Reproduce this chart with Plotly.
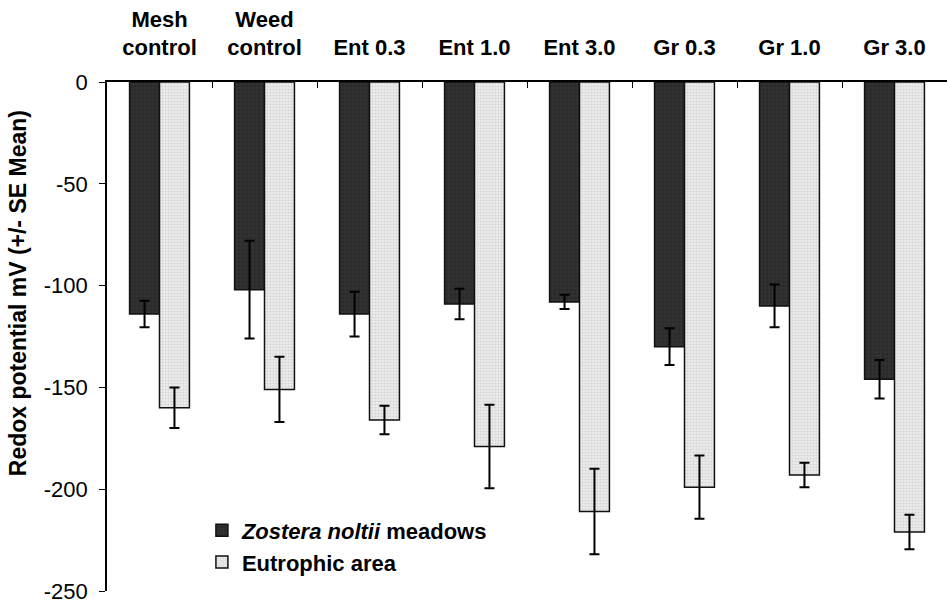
import plotly.graph_objects as go

# Treatments along the top axis
categories = ["Mesh<br>control", "Weed<br>control", "Ent 0.3", "Ent 1.0",
              "Ent 3.0", "Gr 0.3", "Gr 1.0", "Gr 3.0"]

# Mean redox potential (mV) and standard error for each site
zostera_mean = [-114, -102, -114, -109, -108, -130, -110, -146]
zostera_se = [6.5, 24, 11, 7.5, 3.5, 9, 10.5, 9.5]
eutrophic_mean = [-160, -151, -166, -179, -211, -199, -193, -221]
eutrophic_se = [10, 16, 7, 20.5, 21, 15.5, 6, 8.5]

y_ticks = [0, -50, -100, -150, -200, -250]
y_tick_labels = ["0", "-50", "-100", "-150", "-200", "-250"]
y_title = "Redox potential mV (+/- SE Mean)"

FONT = "Liberation Sans, Arial, sans-serif"

fig = go.Figure()
fig.add_trace(go.Bar(
    x=categories, y=zostera_mean,
    name="<i>Zostera noltii</i> meadows",
    marker=dict(color="#2a2a2a", line=dict(color="#111", width=1.5),
                pattern=dict(shape="+", fgcolor="#474747", size=4, solidity=0.3)),
    error_y=dict(type="data", array=zostera_se, visible=True,
                 color="black", thickness=2, width=5),
))
fig.add_trace(go.Bar(
    x=categories, y=eutrophic_mean,
    name="Eutrophic area",
    marker=dict(color="#e8e8e8", line=dict(color="#111", width=1.5),
                pattern=dict(shape=".", fgcolor="#bdbdbd", bgcolor="#ececec",
                             size=3, solidity=0.4)),
    error_y=dict(type="data", array=eutrophic_se, visible=True,
                 color="black", thickness=2, width=5),
))

fig.update_layout(
    width=947, height=605,
    margin=dict(l=107, r=0, t=82, b=14),
    paper_bgcolor="white", plot_bgcolor="white",
    barmode="group", bargap=0.43, bargroupgap=0,
    font=dict(family=FONT, size=20, color="black"),
    showlegend=True,
    legend=dict(x=0.113, y=0.16, xanchor="left", yanchor="top",
                bgcolor="rgba(0,0,0,0)",
                font=dict(family=FONT, size=22, color="black", weight="bold"),
                tracegroupgap=4, itemwidth=30),
)
fig.update_xaxes(
    side="top", type="category",
    showline=True, linecolor="black", linewidth=1.5,
    ticks="inside", tickson="boundaries", ticklen=6, tickcolor="black",
    tickfont=dict(family=FONT, size=22, color="black", weight="bold"),
    showgrid=False, zeroline=False, ticklabelstandoff=16,
)
fig.update_yaxes(
    range=[-250, 0], tickvals=y_ticks, ticktext=y_tick_labels,
    showline=True, linecolor="black", linewidth=1.5,
    ticks="outside", ticklen=6, tickcolor="black",
    tickfont=dict(family=FONT, size=22, color="black"),
    ticklabelstandoff=7,
    showgrid=False, zeroline=False,
)

# Vertical axis title, sitting a little above the plot's vertical centre
fig.add_annotation(
    text=y_title, textangle=-90, showarrow=False,
    xref="paper", yref="paper", x=-0.106, y=0.585,
    xanchor="center", yanchor="middle",
    font=dict(family=FONT, size=23, color="black", weight="bold"),
)

fig.write_html("out.html")
